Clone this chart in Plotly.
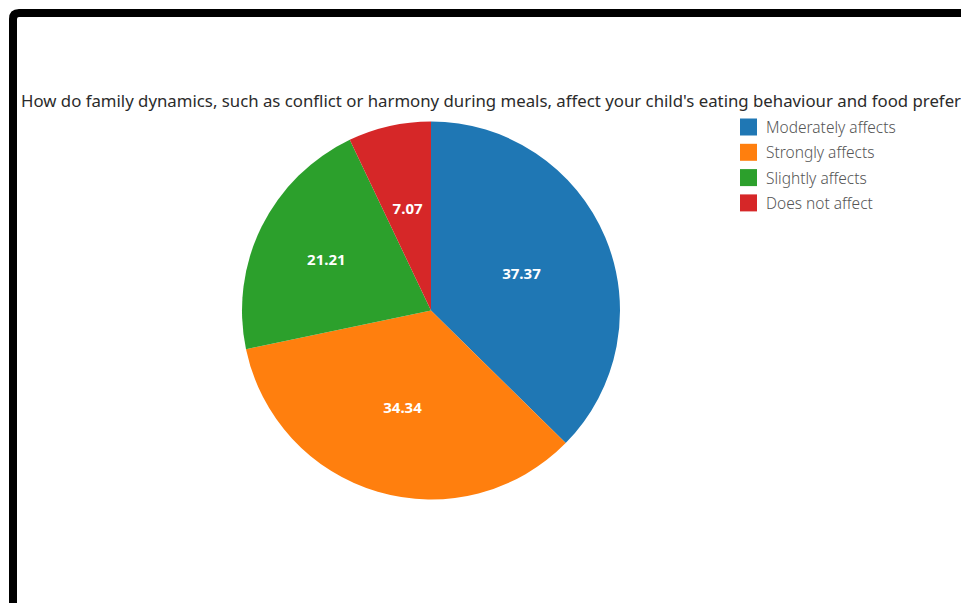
import plotly.graph_objects as go

W, H = 961, 603

title_text = ("How do family dynamics, such as conflict or harmony during meals, "
              "affect your child's eating behaviour and food preferences?")
labels = ["Moderately affects", "Strongly affects", "Slightly affects", "Does not affect"]
values = [37.37, 34.34, 21.21, 7.07]
colors = ["#1f77b4", "#ff7f0e", "#2ca02c", "#d62728"]


def px(x):
    return x / W


def py(y):
    return 1 - y / H


cx, cy, r = 431, 310.5, 189
small = 0.68  # inner helper pie used only to place the small slice's label

main_tpl = ["%{value:.2f}" if v > 10 else "" for v in values]
small_tpl = ["%{value:.2f}" if v <= 10 else "" for v in values]
txt_font = dict(family="Noto Sans", size=15, color="white", weight="bold")

fig = go.Figure()
fig.add_trace(go.Pie(
    labels=labels, values=values, sort=False, direction="clockwise", rotation=0,
    marker=dict(colors=colors, line=dict(width=0)),
    texttemplate=main_tpl, textposition="inside",
    insidetextorientation="horizontal", textfont=txt_font,
    hoverinfo="label+value", showlegend=False,
    domain=dict(x=[px(cx - r), px(cx + r)], y=[py(cy + r), py(cy - r)]),
))
rs = r * small
fig.add_trace(go.Pie(
    labels=labels, values=values, sort=False, direction="clockwise", rotation=0,
    marker=dict(colors=["rgba(0,0,0,0)"] * len(values), line=dict(width=0)),
    texttemplate=small_tpl, textposition="inside",
    insidetextorientation="horizontal", textfont=txt_font,
    hoverinfo="skip", showlegend=False,
    domain=dict(x=[px(cx - rs), px(cx + rs)], y=[py(cy + rs), py(cy - rs)]),
))

fig.add_annotation(
    text=title_text, xref="paper", yref="paper",
    x=px(19), y=py(100.5), xanchor="left", yanchor="middle",
    showarrow=False,
    font=dict(family="Noto Sans", size=16.8, color="#2b2b2b"),
)

# legend (drawn from the label / colour lists)
leg_x, leg_y0, leg_dy, sq = 740, 127, 25.3, 17
for i, (lab, col) in enumerate(zip(labels, colors)):
    yc = leg_y0 + i * leg_dy
    fig.add_shape(type="rect", xref="paper", yref="paper",
                  x0=px(leg_x), x1=px(leg_x + sq),
                  y0=py(yc + sq / 2), y1=py(yc - sq / 2),
                  fillcolor=col, line=dict(width=0))
    fig.add_annotation(text=lab, xref="paper", yref="paper",
                       x=px(leg_x + sq + 7), y=py(yc), xanchor="left", yanchor="middle",
                       showarrow=False,
                       font=dict(family="Noto Sans", size=15.5, color="#555555", weight=300))

# screenshot frame (left and top edges)
fig.add_shape(
    type="path", xref="paper", yref="paper",
    path=(f"M {px(13)} {py(620)} L {px(13)} {py(19)} "
          f"Q {px(13)} {py(13)} {px(19)} {py(13)} L {px(1000)} {py(13)}"),
    line=dict(color="black", width=8),
    fillcolor="rgba(0,0,0,0)",
)

fig.update_layout(
    width=W, height=H,
    margin=dict(l=0, r=0, t=0, b=0),
    paper_bgcolor="white",
    plot_bgcolor="white",
    showlegend=False,
    uniformtext=dict(minsize=15, mode="show"),
)

fig.write_html("out.html", config={"displayModeBar": False},
               post_script="document.body.style.margin='0px';")
